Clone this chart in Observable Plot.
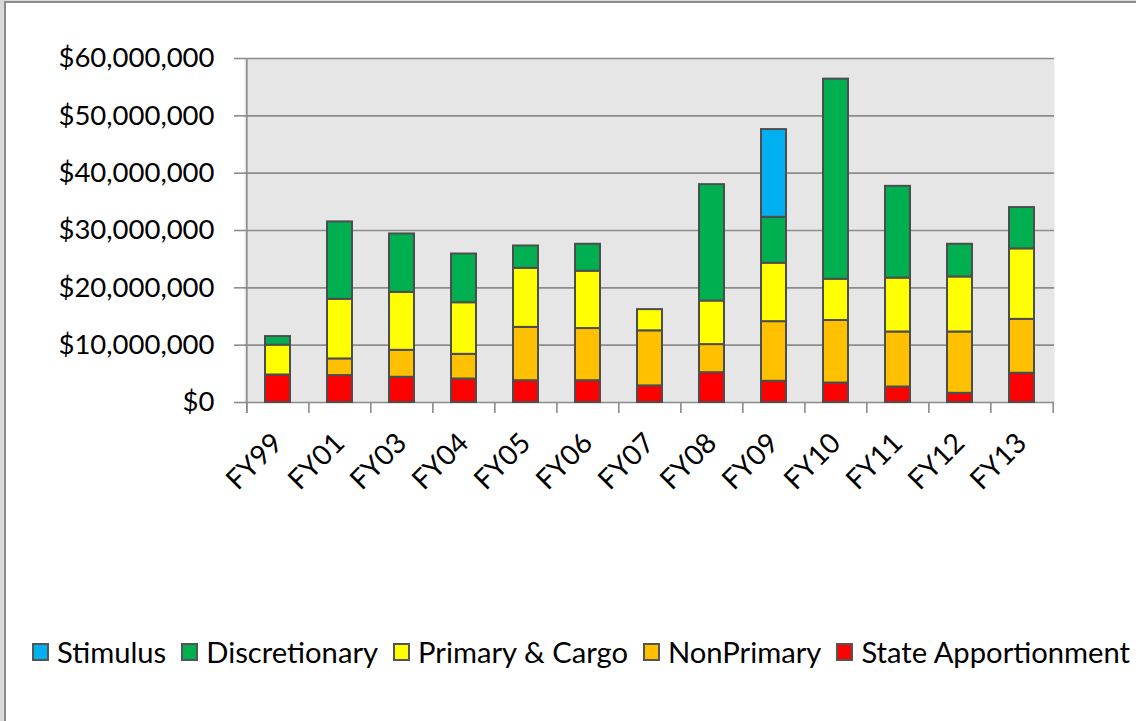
<!DOCTYPE html>
<html>
<head>
<meta charset="utf-8">
<script src="https://cdn.jsdelivr.net/npm/d3@7"></script>
<script src="https://cdn.jsdelivr.net/npm/@observablehq/plot@0.6"></script>
<style>
  html, body { margin: 0; padding: 0; width: 1136px; height: 721px; overflow: hidden; background: #d9d9d9; font-family: Lato, "Open Sans", sans-serif; }
  #frame { position: absolute; left: 4px; top: 1px; width: 1200px; height: 800px; background: #fff; border-left: 2px solid #8c8c8c; border-top: 2px solid #8c8c8c; }
  #chart { position: absolute; left: 0; top: 0; }
  #legend { position: absolute; left: 32px; top: 634px; display: flex; align-items: center; font-size: 29.2px; color: #000; white-space: nowrap; }
  .item { display: flex; align-items: center; margin-right: 15px; }
  .sw { width: 13px; height: 14px; border: 2px solid #555; margin-right: 8px; }
</style>
</head>
<body>
<div id="frame"></div>
<div id="chart"></div>
<div id="legend"></div>
<script>
// Fiscal years
const categories = ["FY99","FY01","FY03","FY04","FY05","FY06","FY07","FY08","FY09","FY10","FY11","FY12","FY13"];
// Series values in millions of dollars (stack order bottom -> top)
const stateApportionment = [4.8, 4.7, 4.4, 4.1, 3.8, 3.8, 2.9, 5.2, 3.7, 3.4, 2.7, 1.6, 5.1];
const nonPrimary         = [0.0, 2.9, 4.7, 4.3, 9.3, 9.1, 9.6, 4.9, 10.4, 10.9, 9.6, 10.7, 9.4];
const primaryCargo       = [5.2, 10.4, 10.1, 9.0, 10.3, 10.0, 3.7, 7.6, 10.2, 7.2, 9.4, 9.6, 12.3];
const discretionary      = [1.5, 13.5, 10.2, 8.5, 3.9, 4.7, 0.0, 20.3, 8.0, 34.9, 16.0, 5.7, 7.2];
const stimulus           = [0, 0, 0, 0, 0, 0, 0, 0, 15.3, 0, 0, 0, 0];

const stackSeries = ["State Apportionment", "NonPrimary", "Primary & Cargo", "Discretionary", "Stimulus"];
const stackValues = [stateApportionment, nonPrimary, primaryCargo, discretionary, stimulus];
const seriesColors = ["#ff0000", "#ffc000", "#ffff00", "#00b050", "#00b0f0"];
const legendOrder = ["Stimulus", "Discretionary", "Primary & Cargo", "NonPrimary", "State Apportionment"];
const yTicks = [0, 10e6, 20e6, 30e6, 40e6, 50e6, 60e6];

const table = [];
stackSeries.forEach((s, si) => {
  categories.forEach((c, ci) => {
    const v = stackValues[si][ci];
    if (v > 0) table.push({year: c, series: s, value: v * 1e6});
  });
});

const W = 1136, ML = 244, MR = 82;
const step = (W - ML - MR) / categories.length;
const font = "Lato, 'Open Sans', sans-serif";

const chart = Plot.plot({
  width: W,
  height: 560,
  marginLeft: ML,
  marginRight: MR,
  marginTop: 58,
  marginBottom: 158,
  style: {fontFamily: font, fontSize: "27px", color: "#000", background: "transparent", overflow: "visible"},
  x: {domain: categories, paddingInner: 0.6, paddingOuter: 0.3, axis: null},
  y: {domain: [0, 60e6], axis: null},
  color: {domain: stackSeries, range: seriesColors},
  marks: [
    Plot.frame({fill: "#e6e6e6", stroke: null}),
    Plot.gridY(yTicks, {stroke: "#8c8c8c", strokeOpacity: 1, strokeWidth: 1.6}),
    Plot.axisY(yTicks, {
      label: null,
      tickSize: 10, tickPadding: 20, stroke: "#8c8c8c", strokeWidth: 1.6, strokeOpacity: 1,
      fill: "#000", fontSize: 27.5,
      tickFormat: d => "$" + d3.format(",")(d)
    }),
    // category boundary ticks below the axis
    Plot.ruleX(categories, {x: d => d, dx: -step / 2, y1: 0, y2: 0, insetBottom: -11, stroke: "#8c8c8c", strokeWidth: 1.6}),
    Plot.ruleX([categories[categories.length - 1]], {x: d => d, dx: step / 2, y1: 0, y2: 0, insetBottom: -11, stroke: "#8c8c8c", strokeWidth: 1.6}),
    // left axis line
    Plot.ruleX([categories[0]], {x: d => d, dx: -step / 2, insetBottom: -11, stroke: "#8c8c8c", strokeWidth: 1.6}),
    Plot.barY(table, {x: "year", y: "value", fill: "series", order: stackSeries, stroke: "#4d4d4d", strokeWidth: 2}),
    Plot.text(categories, {x: d => d, y: 0, text: d => d, rotate: -45, textAnchor: "end", lineAnchor: "middle", dy: 36, dx: 0, fontSize: 28, fill: "#000"})
  ]
});
document.getElementById("chart").appendChild(chart);

const legend = d3.select("#legend");
legendOrder.forEach(s => {
  const item = legend.append("div").attr("class", "item");
  item.append("div").attr("class", "sw").style("background", seriesColors[stackSeries.indexOf(s)]);
  item.append("span").text(s);
});
</script>
</body>
</html>
